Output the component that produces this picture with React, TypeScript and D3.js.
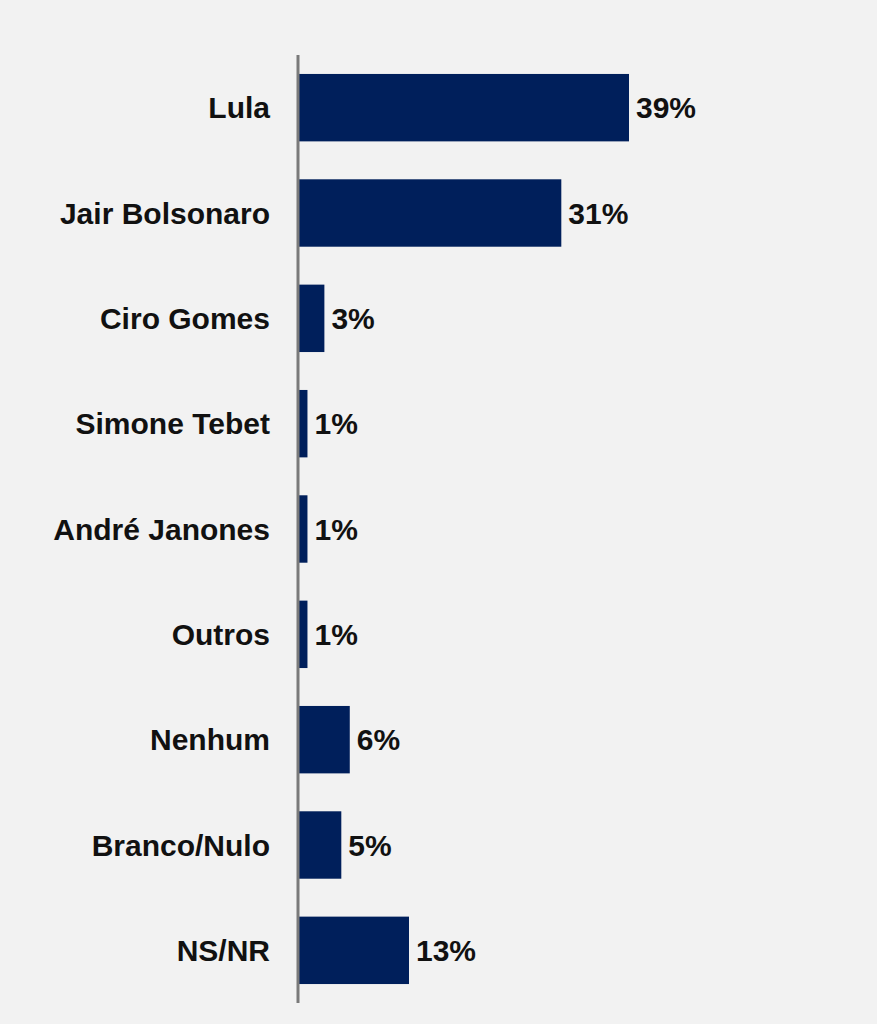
import { useEffect, useRef } from "react";
import * as d3 from "d3";

const candidates = [
  "Lula",
  "Jair Bolsonaro",
  "Ciro Gomes",
  "Simone Tebet",
  "André Janones",
  "Outros",
  "Nenhum",
  "Branco/Nulo",
  "NS/NR",
];
const shares = [39, 31, 3, 1, 1, 1, 6, 5, 13];

export default function App() {
  const svgRef = useRef<SVGSVGElement>(null);

  useEffect(() => {
    if (!svgRef.current) return;

    const svg = d3.select(svgRef.current);
    const width = 877;
    const height = 1024;
    const axisX = 299;

    svg.selectAll("*").remove();
    svg.attr("width", width).attr("height", height);

    const data = candidates.map((name, i) => ({ name, value: shares[i] }));

    // background
    svg
      .append("rect")
      .attr("width", width)
      .attr("height", height)
      .attr("fill", "#f2f2f2");

    const yScale = d3
      .scaleBand()
      .domain(candidates)
      .range([55, 1003])
      .paddingInner(0.36)
      .paddingOuter(0.18);

    const xScale = d3
      .scaleLinear()
      .domain([0, 39])
      .range([axisX, 629]);

    // Bars
    svg
      .selectAll("rect.bar")
      .data(data)
      .enter()
      .append("rect")
      .attr("class", "bar")
      .attr("x", xScale(0))
      .attr("y", (d) => yScale(d.name)!)
      .attr("width", (d) => xScale(d.value) - xScale(0))
      .attr("height", yScale.bandwidth())
      .attr("fill", "#001f5b");

    // Value labels
    svg
      .selectAll("text.value")
      .data(data)
      .enter()
      .append("text")
      .attr("class", "value")
      .attr("x", (d) => xScale(d.value) + 7)
      .attr("y", (d) => yScale(d.name)! + yScale.bandwidth() / 2)
      .attr("dy", "0.36em")
      .attr("fill", "#111111")
      .attr("font-family", "Liberation Sans, Arial, sans-serif")
      .attr("font-size", "30px")
      .attr("font-weight", "bold")
      .text((d) => `${d.value}%`);

    // Category labels
    svg
      .selectAll("text.cat")
      .data(data)
      .enter()
      .append("text")
      .attr("class", "cat")
      .attr("x", 270)
      .attr("y", (d) => yScale(d.name)! + yScale.bandwidth() / 2)
      .attr("dy", "0.36em")
      .attr("text-anchor", "end")
      .attr("fill", "#111111")
      .attr("font-family", "Liberation Sans, Arial, sans-serif")
      .attr("font-size", "30px")
      .attr("font-weight", "bold")
      .text((d) => d.name);

    // Axis line
    svg
      .append("line")
      .attr("x1", axisX - 1)
      .attr("x2", axisX - 1)
      .attr("y1", 55)
      .attr("y2", 1003)
      .attr("stroke", "#7a7a7a")
      .attr("stroke-width", 3);
  }, []);

  return (
    <div style={{ position: "absolute", left: 0, top: 0, background: "#f2f2f2" }}>
      <svg ref={svgRef} style={{ display: "block" }}></svg>
    </div>
  );
}
